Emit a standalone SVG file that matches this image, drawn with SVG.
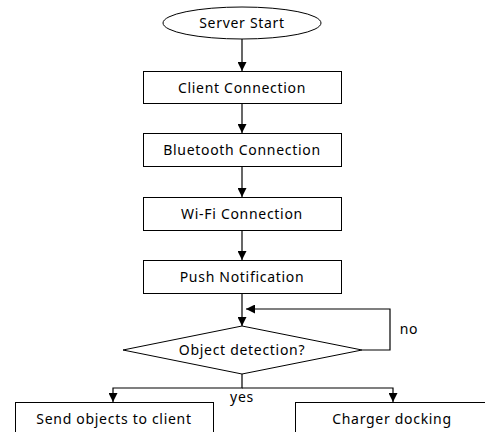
<svg xmlns="http://www.w3.org/2000/svg" width="485" height="432" viewBox="0 0 485 432">
<defs>
<marker id="ah" viewBox="0 0 10 10" refX="10" refY="5" markerWidth="9" markerHeight="9" markerUnits="userSpaceOnUse" orient="auto">
<path d="M0,0 L10,5 L0,10 Z" fill="#000"/>
</marker>
</defs>
<style>
.box{fill:#fff;stroke:#000;stroke-width:1}
.t{font-family:"Noto Sans","Open Sans",sans-serif;font-size:14px;letter-spacing:0.7px;fill:#000;text-anchor:middle}
.c{fill:none;stroke:#000;stroke-width:1.2}
</style>
<rect width="485" height="432" fill="#fff"/>
<g id="start">
<ellipse class="box" cx="242" cy="23" rx="79" ry="16"/>
<text class="t" x="242" y="28">Server Start</text>
</g>
<g id="client">
<rect class="box" x="143.5" y="71.5" width="198" height="32"/>
<text class="t" x="242" y="93">Client Connection</text>
</g>
<g id="bluetooth">
<rect class="box" x="143.5" y="133.5" width="198" height="33"/>
<text class="t" x="242" y="155">Bluetooth Connection</text>
</g>
<g id="wifi">
<rect class="box" x="143.5" y="197.5" width="198" height="33"/>
<text class="t" x="242" y="219">Wi-Fi Connection</text>
</g>
<g id="push">
<rect class="box" x="143.5" y="260.5" width="198" height="33"/>
<text class="t" x="242" y="282">Push Notification</text>
</g>
<g id="decision">
<polygon class="box" points="242,326 362,350 242,374 123,350"/>
<text class="t" x="242" y="355">Object detection?</text>
</g>
<g id="send">
<rect class="box" x="15.5" y="402.5" width="198" height="40"/>
<text class="t" x="114" y="424">Send objects to client</text>
</g>
<g id="charger">
<rect class="box" x="295.5" y="402.5" width="198" height="40"/>
<text class="t" x="392" y="424">Charger docking</text>
</g>
<g id="connectors">
<line class="c" x1="242" y1="39" x2="242" y2="71" marker-end="url(#ah)"/>
<line class="c" x1="242" y1="104" x2="242" y2="133" marker-end="url(#ah)"/>
<line class="c" x1="242" y1="167" x2="242" y2="197" marker-end="url(#ah)"/>
<line class="c" x1="242" y1="231" x2="242" y2="260" marker-end="url(#ah)"/>
<line class="c" x1="242" y1="294" x2="242" y2="326" marker-end="url(#ah)"/>
<polyline class="c" points="362,350 390,350 390,309 246,309" marker-end="url(#ah)"/>
<polyline class="c" points="242,374 242,388 113,388 113,402" marker-end="url(#ah)"/>
<polyline class="c" points="242,388 393,388 393,402" marker-end="url(#ah)"/>
<text class="t" x="242" y="402">yes</text>
<text class="t" x="409" y="334">no</text>
</g>
</svg>
